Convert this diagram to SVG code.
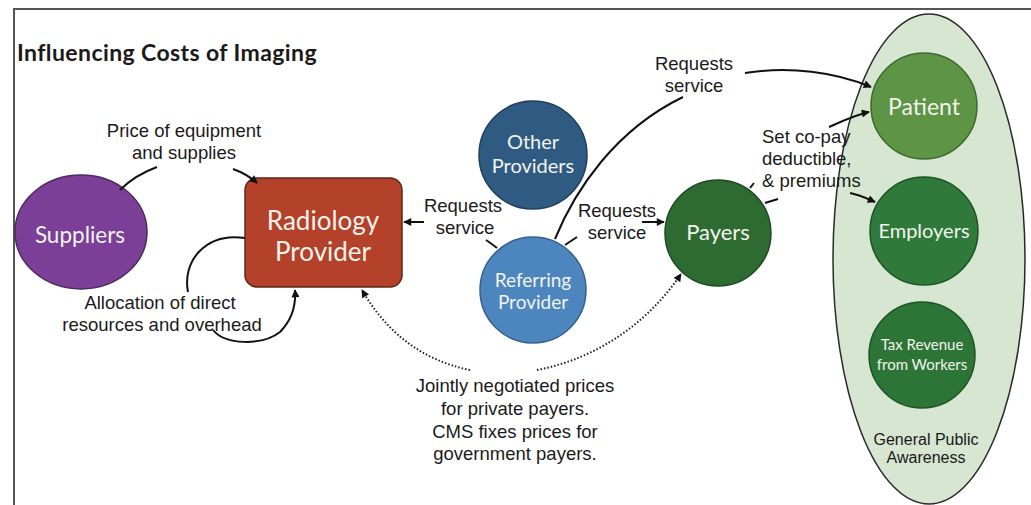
<svg xmlns="http://www.w3.org/2000/svg" width="1031" height="505" viewBox="0 0 1031 505">
<defs>
<marker id="arr" viewBox="0 0 10 10" refX="9" refY="5" markerWidth="10" markerHeight="8" markerUnits="userSpaceOnUse" orient="auto">
<path d="M0,0 L10,5 L0,10 z" fill="#111"/>
</marker>
</defs>
<style>
.frame{stroke:#555;stroke-width:2;fill:none}
.node{stroke-width:1.5}
.nt{font-family:Lato,"Open Sans",sans-serif;fill:#f1f3ec;text-anchor:middle}
.lbl{font-family:"Liberation Sans",Arial,sans-serif;font-size:18.5px;fill:#1a1a1a}
.c{fill:none;stroke:#111;stroke-width:2}
.d{fill:none;stroke:#222;stroke-width:2;stroke-dasharray:1.5 2}
.title{font-family:Lato,"Open Sans",sans-serif;font-weight:bold;font-size:23px;letter-spacing:0.4px;fill:#1a1a1a}
</style>
<rect width="1031" height="505" fill="#fff"/>
<path class="frame" d="M14,505 L14,9 L1031,9"/>
<text class="title" x="17" y="61">Influencing Costs of Imaging</text>

<g id="public">
<ellipse cx="929" cy="259" rx="96" ry="245" fill="#d6e6d0" stroke="#2a2a2a" stroke-width="1.5"/>
<text class="lbl" x="926" y="445" text-anchor="middle" style="font-size:16px">General Public</text>
<text class="lbl" x="926" y="463" text-anchor="middle" style="font-size:16px">Awareness</text>
</g>

<g id="suppliers">
<ellipse class="node" cx="81" cy="232" rx="66" ry="57" fill="#7b3f98" stroke="#4b2a5e"/>
<text class="nt" x="80" y="243" font-size="22.5">Suppliers</text>
</g>

<g id="radiology">
<rect class="node" x="245" y="178" width="157" height="109" rx="12" fill="#b4412a" stroke="#5b2818"/>
<text class="nt" x="323" y="230" font-size="26">Radiology</text>
<text class="nt" x="323" y="261" font-size="26">Provider</text>
</g>

<g id="other">
<circle class="node" cx="533" cy="155" r="54" fill="#2f5b82" stroke="#1f3f5e"/>
<text class="nt" x="533" y="149" font-size="20">Other</text>
<text class="nt" x="533" y="173" font-size="20">Providers</text>
</g>

<g id="referring">
<circle class="node" cx="533" cy="290" r="53" fill="#4d86be" stroke="#35618d"/>
<text class="nt" x="533" y="287" font-size="19">Referring</text>
<text class="nt" x="533" y="309" font-size="19">Provider</text>
</g>

<g id="payers">
<circle class="node" cx="718" cy="233" r="53" fill="#2e6b33" stroke="#1e4a22"/>
<text class="nt" x="718" y="240" font-size="22">Payers</text>
</g>

<g id="patient">
<circle class="node" cx="924" cy="106" r="53" fill="#5e9445" stroke="#3e6a2e"/>
<text class="nt" x="924" y="115" font-size="23">Patient</text>
</g>

<g id="employers">
<circle class="node" cx="924" cy="231" r="54" fill="#2f7a3a" stroke="#1e5526"/>
<text class="nt" x="924" y="238" font-size="20">Employers</text>
</g>

<g id="tax">
<circle class="node" cx="922" cy="355" r="53" fill="#2d7537" stroke="#1e5526"/>
<text class="nt" x="922" y="350" font-size="15">Tax Revenue</text>
<text class="nt" x="922" y="370" font-size="15">from Workers</text>
</g>

<g id="connectors">
<path class="c" d="M120,190 Q135,175 157,167"/>
<path class="c" d="M233,169 Q247,174 257,183" marker-end="url(#arr)"/>
<path class="c" d="M245,238 C205,232 182,262 188,292"/>
<path class="c" d="M213,330 C225,345 262,346 280,332 C292,320 296,305 295,290" marker-end="url(#arr)"/>
<path class="c" d="M497,248 C492,244 489,242 486,240"/>
<path class="c" d="M424,222 L404,222" marker-end="url(#arr)"/>
<path class="c" d="M565,245 L577,237"/>
<path class="c" d="M642,222 L664,222" marker-end="url(#arr)"/>
<path class="c" d="M555,239 C575,190 615,130 683,97"/>
<path class="c" d="M745,73 C790,66 835,72 871,87" marker-end="url(#arr)"/>
<path class="c" d="M750,188 L754,183"/>
<path class="c" d="M829,127 C845,120 855,115 869,112" marker-end="url(#arr)"/>
<path class="c" d="M765,203 L778,199"/>
<path class="c" d="M850,193 C860,195 866,198 875,202" marker-end="url(#arr)"/>
<path class="d" d="M470,370 C420,360 385,330 362,290" marker-end="url(#arr)"/>
<path class="d" d="M537,370 C600,358 650,320 681,274" marker-end="url(#arr)"/>
</g>

<g id="labels">
<text class="lbl" x="184" y="137" text-anchor="middle">Price of equipment</text>
<text class="lbl" x="184" y="159" text-anchor="middle">and supplies</text>
<text class="lbl" x="160" y="309" text-anchor="middle">Allocation of direct</text>
<text class="lbl" x="162" y="331" text-anchor="middle">resources and overhead</text>
<text class="lbl" x="463" y="212" text-anchor="middle">Requests</text>
<text class="lbl" x="465" y="234" text-anchor="middle">service</text>
<text class="lbl" x="617" y="217" text-anchor="middle">Requests</text>
<text class="lbl" x="617" y="239" text-anchor="middle">service</text>
<text class="lbl" x="694" y="70" text-anchor="middle">Requests</text>
<text class="lbl" x="694" y="92" text-anchor="middle">service</text>
<text class="lbl" x="762" y="143">Set co-pay</text>
<text class="lbl" x="762" y="165">deductible,</text>
<text class="lbl" x="762" y="187">&amp; premiums</text>
<text class="lbl" x="515" y="392" text-anchor="middle">Jointly negotiated prices</text>
<text class="lbl" x="515" y="415" text-anchor="middle">for private payers.</text>
<text class="lbl" x="515" y="438" text-anchor="middle">CMS fixes prices for</text>
<text class="lbl" x="515" y="460" text-anchor="middle">government payers.</text>
</g>
</svg>
